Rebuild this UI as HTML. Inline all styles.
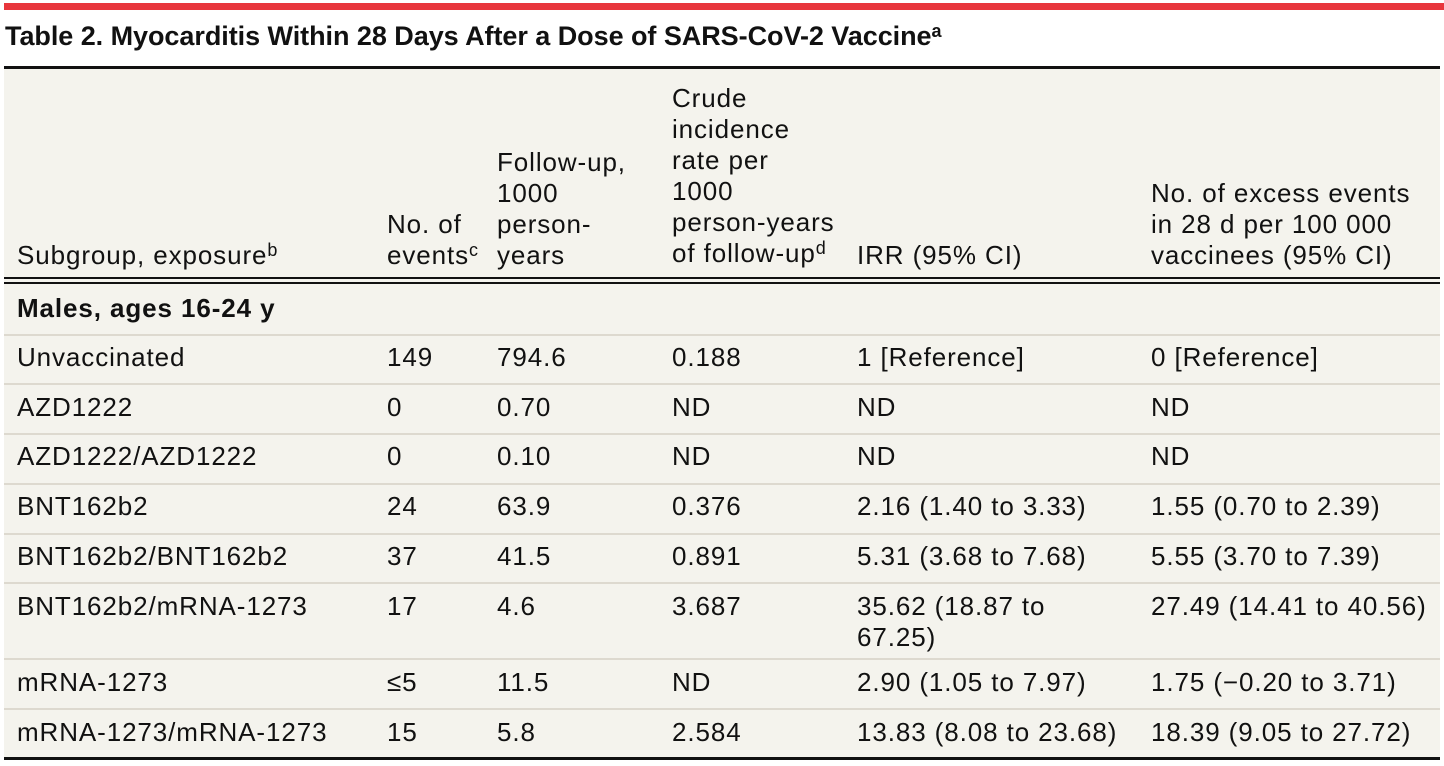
<!DOCTYPE html>
<html><head><meta charset="utf-8"><style>
body{margin:0;width:1444px;height:766px;background:#fff;position:relative;overflow:hidden;font-family:"Liberation Sans",sans-serif;color:#111}
.a{position:absolute}
.bg{left:4px;top:68px;width:1436px;height:692px;background:#f4f3ed}
.l{position:absolute;left:4px;width:1436px;height:2px;background:#ddd9cf}
.t{position:absolute;font-size:26px;line-height:31px;white-space:nowrap;letter-spacing:0.9px}
sup{font-size:18px;vertical-align:top;position:relative;top:-5px;letter-spacing:0}
</style></head><body>
<div class="a" style="left:4px;top:3px;width:1440px;height:7px;background:#e8363c"></div>
<div class="t" style="left:5px;top:21px;font-size:27px;font-weight:bold;letter-spacing:-0.05px">Table 2. Myocarditis Within 28 Days After a Dose of SARS-CoV-2 Vaccine<sup>a</sup></div>
<div class="a bg"></div>
<div class="a" style="left:4px;top:66px;width:1436px;height:3px;background:#111"></div>
<div class="a" style="left:4px;top:277px;width:1436px;height:2px;background:#111"></div>
<div class="a" style="left:4px;top:282px;width:1436px;height:2px;background:#111"></div>
<div class="a" style="left:4px;top:757px;width:1436px;height:3px;background:#111"></div>
<div class="l" style="top:334px"></div>
<div class="l" style="top:383px"></div>
<div class="l" style="top:433px"></div>
<div class="l" style="top:483px"></div>
<div class="l" style="top:533px"></div>
<div class="l" style="top:582px"></div>
<div class="l" style="top:658px"></div>
<div class="l" style="top:708px"></div>

<div class="t" style="left:17px;top:240px">Subgroup, exposure<sup>b</sup></div>
<div class="t" style="left:387px;top:209px">No. of<br>events<sup>c</sup></div>
<div class="t" style="left:497px;top:147px">Follow-up,<br>1000<br>person-<br>years</div>
<div class="t" style="left:672px;top:83px">Crude<br>incidence<br>rate per<br>1000<br>person-years<br>of follow-up<sup>d</sup></div>
<div class="t" style="left:857px;top:240px">IRR (95% CI)</div>
<div class="t" style="left:1151px;top:178px">No. of excess events<br>in 28 d per 100 000<br>vaccinees (95% CI)</div>

<div class="t" style="left:17px;top:293px;font-weight:bold">Males, ages 16-24 y</div>

<div class="t" style="left:17px;top:342px">Unvaccinated</div><div class="t" style="left:387px;top:342px">149</div><div class="t" style="left:497px;top:342px">794.6</div><div class="t" style="left:672px;top:342px">0.188</div><div class="t" style="left:857px;top:342px">1 [Reference]</div><div class="t" style="left:1151px;top:342px">0 [Reference]</div>

<div class="t" style="left:17px;top:392px">AZD1222</div><div class="t" style="left:387px;top:392px">0</div><div class="t" style="left:497px;top:392px">0.70</div><div class="t" style="left:672px;top:392px">ND</div><div class="t" style="left:857px;top:392px">ND</div><div class="t" style="left:1151px;top:392px">ND</div>

<div class="t" style="left:17px;top:441px">AZD1222/AZD1222</div><div class="t" style="left:387px;top:441px">0</div><div class="t" style="left:497px;top:441px">0.10</div><div class="t" style="left:672px;top:441px">ND</div><div class="t" style="left:857px;top:441px">ND</div><div class="t" style="left:1151px;top:441px">ND</div>

<div class="t" style="left:17px;top:491px">BNT162b2</div><div class="t" style="left:387px;top:491px">24</div><div class="t" style="left:497px;top:491px">63.9</div><div class="t" style="left:672px;top:491px">0.376</div><div class="t" style="left:857px;top:491px">2.16 (1.40 to 3.33)</div><div class="t" style="left:1151px;top:491px">1.55 (0.70 to 2.39)</div>

<div class="t" style="left:17px;top:541px">BNT162b2/BNT162b2</div><div class="t" style="left:387px;top:541px">37</div><div class="t" style="left:497px;top:541px">41.5</div><div class="t" style="left:672px;top:541px">0.891</div><div class="t" style="left:857px;top:541px">5.31 (3.68 to 7.68)</div><div class="t" style="left:1151px;top:541px">5.55 (3.70 to 7.39)</div>

<div class="t" style="left:17px;top:591px">BNT162b2/mRNA-1273</div><div class="t" style="left:387px;top:591px">17</div><div class="t" style="left:497px;top:591px">4.6</div><div class="t" style="left:672px;top:591px">3.687</div><div class="t" style="left:857px;top:591px">35.62 (18.87 to<br>67.25)</div><div class="t" style="left:1151px;top:591px">27.49 (14.41 to 40.56)</div>

<div class="t" style="left:17px;top:667px">mRNA-1273</div><div class="t" style="left:387px;top:667px">≤5</div><div class="t" style="left:497px;top:667px">11.5</div><div class="t" style="left:672px;top:667px">ND</div><div class="t" style="left:857px;top:667px">2.90 (1.05 to 7.97)</div><div class="t" style="left:1151px;top:667px">1.75 (−0.20 to 3.71)</div>

<div class="t" style="left:17px;top:717px">mRNA-1273/mRNA-1273</div><div class="t" style="left:387px;top:717px">15</div><div class="t" style="left:497px;top:717px">5.8</div><div class="t" style="left:672px;top:717px">2.584</div><div class="t" style="left:857px;top:717px">13.83 (8.08 to 23.68)</div><div class="t" style="left:1151px;top:717px">18.39 (9.05 to 27.72)</div>
</body></html>
